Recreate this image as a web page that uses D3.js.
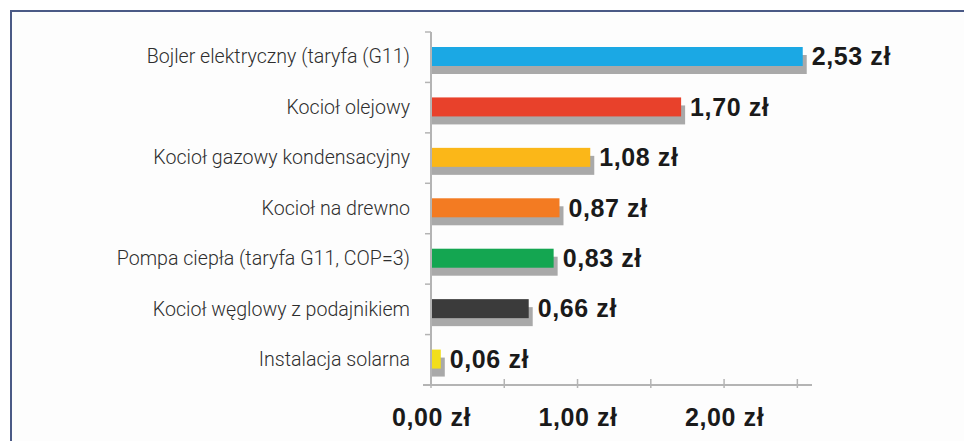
<!DOCTYPE html>
<html>
<head>
<meta charset="utf-8">
<script src="https://cdn.jsdelivr.net/npm/d3@7"></script>
<style>
    body { margin: 0; background: #ffffff; }
    .cat text { font-family: Roboto, "Open Sans", sans-serif; font-weight: 300; font-size: 19.6px; fill: #2e2e2e; }
    .val { font-family: "Liberation Sans", Arial, sans-serif; font-weight: bold; font-size: 25px; letter-spacing: 0.6px; fill: #1a1a1a; }
    .x.axis text { font-family: "Liberation Sans", Arial, sans-serif; font-weight: bold; font-size: 25px; letter-spacing: 0.6px; fill: #1a1a1a; }
</style>
</head>
<body>
<div id="chart"></div>
<script>
var categories = [
    "Bojler elektryczny (taryfa (G11)",
    "Kocioł olejowy",
    "Kocioł gazowy kondensacyjny",
    "Kocioł na drewno",
    "Pompa ciepła (taryfa G11, COP=3)",
    "Kocioł węglowy z podajnikiem",
    "Instalacja solarna"
];
var values = [2.53, 1.70, 1.08, 0.87, 0.83, 0.66, 0.06];
var barColors = ["#1ba8e4", "#e8412b", "#fbb718", "#f37b22", "#14a651", "#3b3b3b", "#f2de1c"];
var xTicks = [0, 1, 2];

var width = 964, height = 441;
var fmt = function(v) { return d3.format(".2f")(v).replace(".", ",") + " zł"; };

var svg = d3.select("#chart").append("svg")
    .attr("width", width)
    .attr("height", height);

// panel background and the blue frame (top + left only)
svg.append("rect").attr("x", 11).attr("y", 11).attr("width", width).attr("height", height)
    .attr("fill", "#fdfdfd");
svg.append("path")
    .attr("d", "M11," + height + "V11H" + width)
    .attr("fill", "none")
    .attr("stroke", "#4b5a86")
    .attr("stroke-width", 2);

var xScale = d3.scaleLinear().domain([0, 2.6]).range([431, 812]);
var yScale = d3.scaleBand().domain(categories).range([32, 385]);

// x axis line with small ticks at halves
var xLine = svg.append("g").attr("transform", "translate(0,385)");
xLine.append("line")
    .attr("x1", 423).attr("x2", xScale.range()[1])
    .attr("stroke", "#b4b4b4").attr("stroke-width", 2);
xLine.selectAll(".mt").data(d3.range(0, 2.6, 0.5)).enter().append("line")
    .attr("x1", function(d) { return xScale(d); })
    .attr("x2", function(d) { return xScale(d); })
    .attr("y1", -6).attr("y2", 3)
    .attr("stroke", "#b4b4b4").attr("stroke-width", 1.5);

var xAxis = d3.axisBottom(xScale).tickValues(xTicks).tickSize(0).tickPadding(0).tickFormat(fmt);
svg.append("g").attr("class", "x axis")
    .attr("transform", "translate(0,385)")
    .call(xAxis)
    .call(function(g) { g.select(".domain").remove(); })
    .selectAll("text").attr("dy", "1.62em");

// y axis: line with ticks at category boundaries
var yg = svg.append("g");
yg.append("line")
    .attr("x1", 431).attr("x2", 431)
    .attr("y1", yScale.range()[0]).attr("y2", yScale.range()[1])
    .attr("stroke", "#b4b4b4").attr("stroke-width", 2);
yg.selectAll(".bt").data(categories).enter().append("line")
    .attr("x1", 425).attr("x2", 431)
    .attr("y1", function(d) { return yScale(d); })
    .attr("y2", function(d) { return yScale(d); })
    .attr("stroke", "#b4b4b4").attr("stroke-width", 1.5);

var yAxis = d3.axisLeft(yScale).tickSize(0).tickPadding(21);
svg.append("g").attr("class", "cat")
    .attr("transform", "translate(431,0)")
    .call(yAxis)
    .call(function(g) { g.select(".domain").remove(); });

// bars with offset shadow
var barTop = 15, barH = 19;
var bars = svg.append("g").selectAll(".bar").data(values).enter().append("g");
bars.append("rect")
    .attr("x", xScale(0) + 1)
    .attr("y", function(d, i) { return yScale(categories[i]) + barTop + 8; })
    .attr("width", function(d) { return xScale(d) - xScale(0) + 4; })
    .attr("height", barH)
    .attr("fill", "#a9a9a9");
bars.append("rect")
    .attr("x", xScale(0) + 1)
    .attr("y", function(d, i) { return yScale(categories[i]) + barTop; })
    .attr("width", function(d) { return xScale(d) - xScale(0); })
    .attr("height", barH)
    .attr("fill", function(d, i) { return barColors[i]; });

bars.append("text")
    .attr("class", "val")
    .attr("x", function(d) { return xScale(d) + 10; })
    .attr("y", function(d, i) { return yScale(categories[i]) + barTop + barH / 2; })
    .attr("dy", "0.35em")
    .text(fmt);
</script>
</body>
</html>
